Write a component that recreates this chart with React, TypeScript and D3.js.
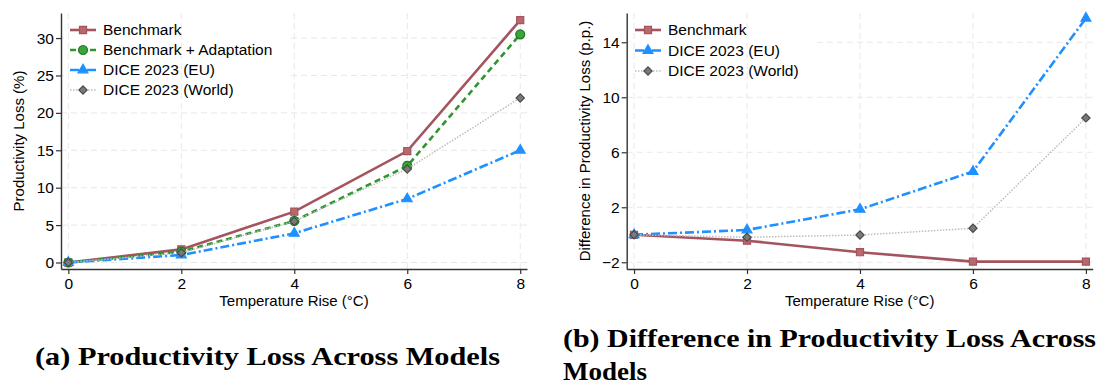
import { useRef, useEffect } from 'react';
import * as d3 from 'd3';

const WIDTH = 1106;
const HEIGHT = 389;
const FONT = 'Liberation Sans, Arial, sans-serif';

const temps = [0, 2, 4, 6, 8];

// panel (a): productivity loss (%)
const benchmark = [0, 1.75, 6.8, 14.9, 32.4];
const adaptation = [0, 1.45, 5.55, 12.9, 30.5];
const diceEU = [0, 1.0, 3.9, 8.5, 15.0];
const diceWorld = [0, 1.3, 5.5, 12.5, 22.0];

// panel (b): difference in productivity loss (p.p.)
const diffBenchmark = [0, -0.43, -1.27, -1.95, -1.95];
const diffEU = [0, 0.35, 1.85, 4.6, 15.75];
const diffWorld = [0, -0.18, -0.02, 0.47, 8.5];

const ticksA = [0, 5, 10, 15, 20, 25, 30];
const ticksB = [-2, 2, 6, 10, 14];

const STYLES = {
  benchmark: { color: '#A4545C', dash: null, width: 2.6, marker: 'square', fill: '#B8696F', stroke: '#A4545C' },
  adaptation: { color: '#2E962E', dash: '6,4', width: 2.6, marker: 'circle', fill: '#3AA63A', stroke: '#237A23' },
  eu: { color: '#1E90FF', dash: '9,3,2,3', width: 2.6, marker: 'triangle', fill: '#1E90FF', stroke: '#1E90FF' },
  world: { color: '#BDBDBD', dash: '1.5,1.5', width: 1.5, marker: 'diamond', fill: '#7A7A7A', stroke: '#4A4A4A' },
};

const symbolFor = (m) => {
  if (m === 'square') return d3.symbol(d3.symbolSquare, 50)();
  if (m === 'circle') return d3.symbol(d3.symbolCircle, 64)();
  if (m === 'triangle') return d3.symbol(d3.symbolTriangle, 42)();
  return d3.symbol(d3.symbolSquare, 34)();
};

const markerTransform = (m, px, py) =>
  `translate(${px},${py})${m === 'diamond' ? ' rotate(45)' : ''}`;

const drawPanel = (svg, cfg) => {
  const { x0, x1, y0, y1, yDomain, yTicks, series, yTitle, legend } = cfg;
  const x = d3.scaleLinear().domain([-0.13, 8.12]).range([x0, x1]);
  const y = d3.scaleLinear().domain(yDomain).range([y1, y0]);
  const g = svg.append('g');

  // horizontal grid
  g.selectAll('.hgrid')
    .data(yTicks)
    .join('line')
    .attr('x1', x0)
    .attr('x2', x1)
    .attr('y1', (d) => y(d))
    .attr('y2', (d) => y(d))
    .attr('stroke', '#E8E8E8')
    .attr('stroke-dasharray', '6,4');

  // legend box hides grid behind it
  g.append('rect')
    .attr('x', legend.box[0])
    .attr('y', legend.box[1])
    .attr('width', legend.box[2])
    .attr('height', legend.box[3])
    .attr('fill', 'white');

  // vertical grid
  g.selectAll('.vgrid')
    .data(temps)
    .join('line')
    .attr('x1', (d) => x(d))
    .attr('x2', (d) => x(d))
    .attr('y1', y0)
    .attr('y2', y1)
    .attr('stroke', '#E8E8E8')
    .attr('stroke-dasharray', '6,4');

  // axes
  const yAxis = g
    .append('g')
    .attr('transform', `translate(${x0},0)`)
    .call(d3.axisLeft(y).tickValues(yTicks).tickSize(5).tickPadding(2).tickSizeOuter(0));
  const xAxis = g
    .append('g')
    .attr('transform', `translate(0,${y1})`)
    .call(d3.axisBottom(x).tickValues(temps).tickSize(5).tickPadding(4).tickSizeOuter(0));
  [yAxis, xAxis].forEach((a) => {
    a.selectAll('path').attr('stroke', '#333').attr('stroke-width', 1.4);
    a.selectAll('line').attr('stroke', '#333').attr('stroke-width', 1.2);
    a.selectAll('text').attr('fill', '#000').style('font', `15.5px ${FONT}`);
  });

  // titles
  g.append('text')
    .attr('x', (x0 + x1) / 2)
    .attr('y', 306)
    .attr('text-anchor', 'middle')
    .style('font', `15px ${FONT}`)
    .text('Temperature Rise (°C)');
  g.append('text')
    .attr('transform', `translate(${yTitle.x},${(y0 + y1) / 2}) rotate(-90)`)
    .attr('text-anchor', 'middle')
    .style('font', `15px ${FONT}`)
    .text(yTitle.text);

  // series
  const line = d3
    .line()
    .x((d, i) => x(temps[i]))
    .y((d) => y(d));
  series.forEach((s) => {
    const st = STYLES[s.key];
    g.append('path')
      .datum(s.values)
      .attr('d', line)
      .attr('fill', 'none')
      .attr('stroke', st.color)
      .attr('stroke-width', st.width)
      .attr('stroke-dasharray', st.dash);
    g.selectAll(null)
      .data(s.values)
      .join('path')
      .attr('d', symbolFor(st.marker))
      .attr('transform', (d, i) => markerTransform(st.marker, x(temps[i]), y(d)))
      .attr('fill', st.fill)
      .attr('stroke', st.stroke)
      .attr('stroke-width', 1.2);
  });

  // legend
  series.forEach((s, i) => {
    const st = STYLES[s.key];
    const ly = legend.y + i * legend.step;
    g.append('line')
      .attr('x1', legend.x)
      .attr('x2', legend.x + 26)
      .attr('y1', ly)
      .attr('y2', ly)
      .attr('stroke', st.color)
      .attr('stroke-width', st.width)
      .attr('stroke-dasharray', st.dash);
    g.append('path')
      .attr('d', symbolFor(st.marker))
      .attr('transform', markerTransform(st.marker, legend.x + 13, ly))
      .attr('fill', st.fill)
      .attr('stroke', st.stroke)
      .attr('stroke-width', 1.2);
    g.append('text')
      .attr('x', legend.x + 33)
      .attr('y', ly)
      .attr('dy', '0.35em')
      .style('font', `15.5px ${FONT}`)
      .text(s.label);
  });
};

const App = () => {
  const svgRef = useRef(null);

  useEffect(() => {
    const svg = d3.select(svgRef.current);
    svg.selectAll('*').remove();

    drawPanel(svg, {
      x0: 61,
      x1: 527,
      y0: 13,
      y1: 269,
      yDomain: [-0.87, 33.35],
      yTicks: ticksA,
      yTitle: { x: 24, text: 'Productivity Loss (%)' },
      legend: { x: 70, y: 30, step: 20, box: [64, 16, 224, 86] },
      series: [
        { key: 'benchmark', label: 'Benchmark', values: benchmark },
        { key: 'adaptation', label: 'Benchmark + Adaptation', values: adaptation },
        { key: 'eu', label: 'DICE 2023 (EU)', values: diceEU },
        { key: 'world', label: 'DICE 2023 (World)', values: diceWorld },
      ],
    });

    drawPanel(svg, {
      x0: 626.7,
      x1: 1092.7,
      y0: 13,
      y1: 269,
      yDomain: [-2.49, 16.13],
      yTicks: ticksB,
      yTitle: { x: 590, text: 'Difference in Productivity Loss (p.p.)' },
      legend: { x: 635, y: 30, step: 20.5, box: [630, 16, 183, 66] },
      series: [
        { key: 'benchmark', label: 'Benchmark', values: diffBenchmark },
        { key: 'eu', label: 'DICE 2023 (EU)', values: diffEU },
        { key: 'world', label: 'DICE 2023 (World)', values: diffWorld },
      ],
    });

    // captions
    const capFont = 'bold 26px Liberation Serif, Times New Roman, serif';
    svg.append('text')
      .attr('x', 35)
      .attr('y', 365)
      .attr('textLength', 465)
      .attr('lengthAdjust', 'spacingAndGlyphs')
      .style('font', capFont)
      .text('(a) Productivity Loss Across Models');
    svg.append('text')
      .attr('x', 563)
      .attr('y', 347)
      .attr('textLength', 533)
      .attr('lengthAdjust', 'spacingAndGlyphs')
      .style('font', capFont)
      .text('(b) Difference in Productivity Loss Across');
    svg.append('text')
      .attr('x', 563)
      .attr('y', 380)
      .attr('textLength', 84)
      .attr('lengthAdjust', 'spacingAndGlyphs')
      .style('font', capFont)
      .text('Models');
  }, []);

  return (
    <svg
      ref={svgRef}
      width={WIDTH}
      height={HEIGHT}
      style={{ position: 'absolute', left: 0, top: 0, background: 'white' }}
    />
  );
};

export default App;
